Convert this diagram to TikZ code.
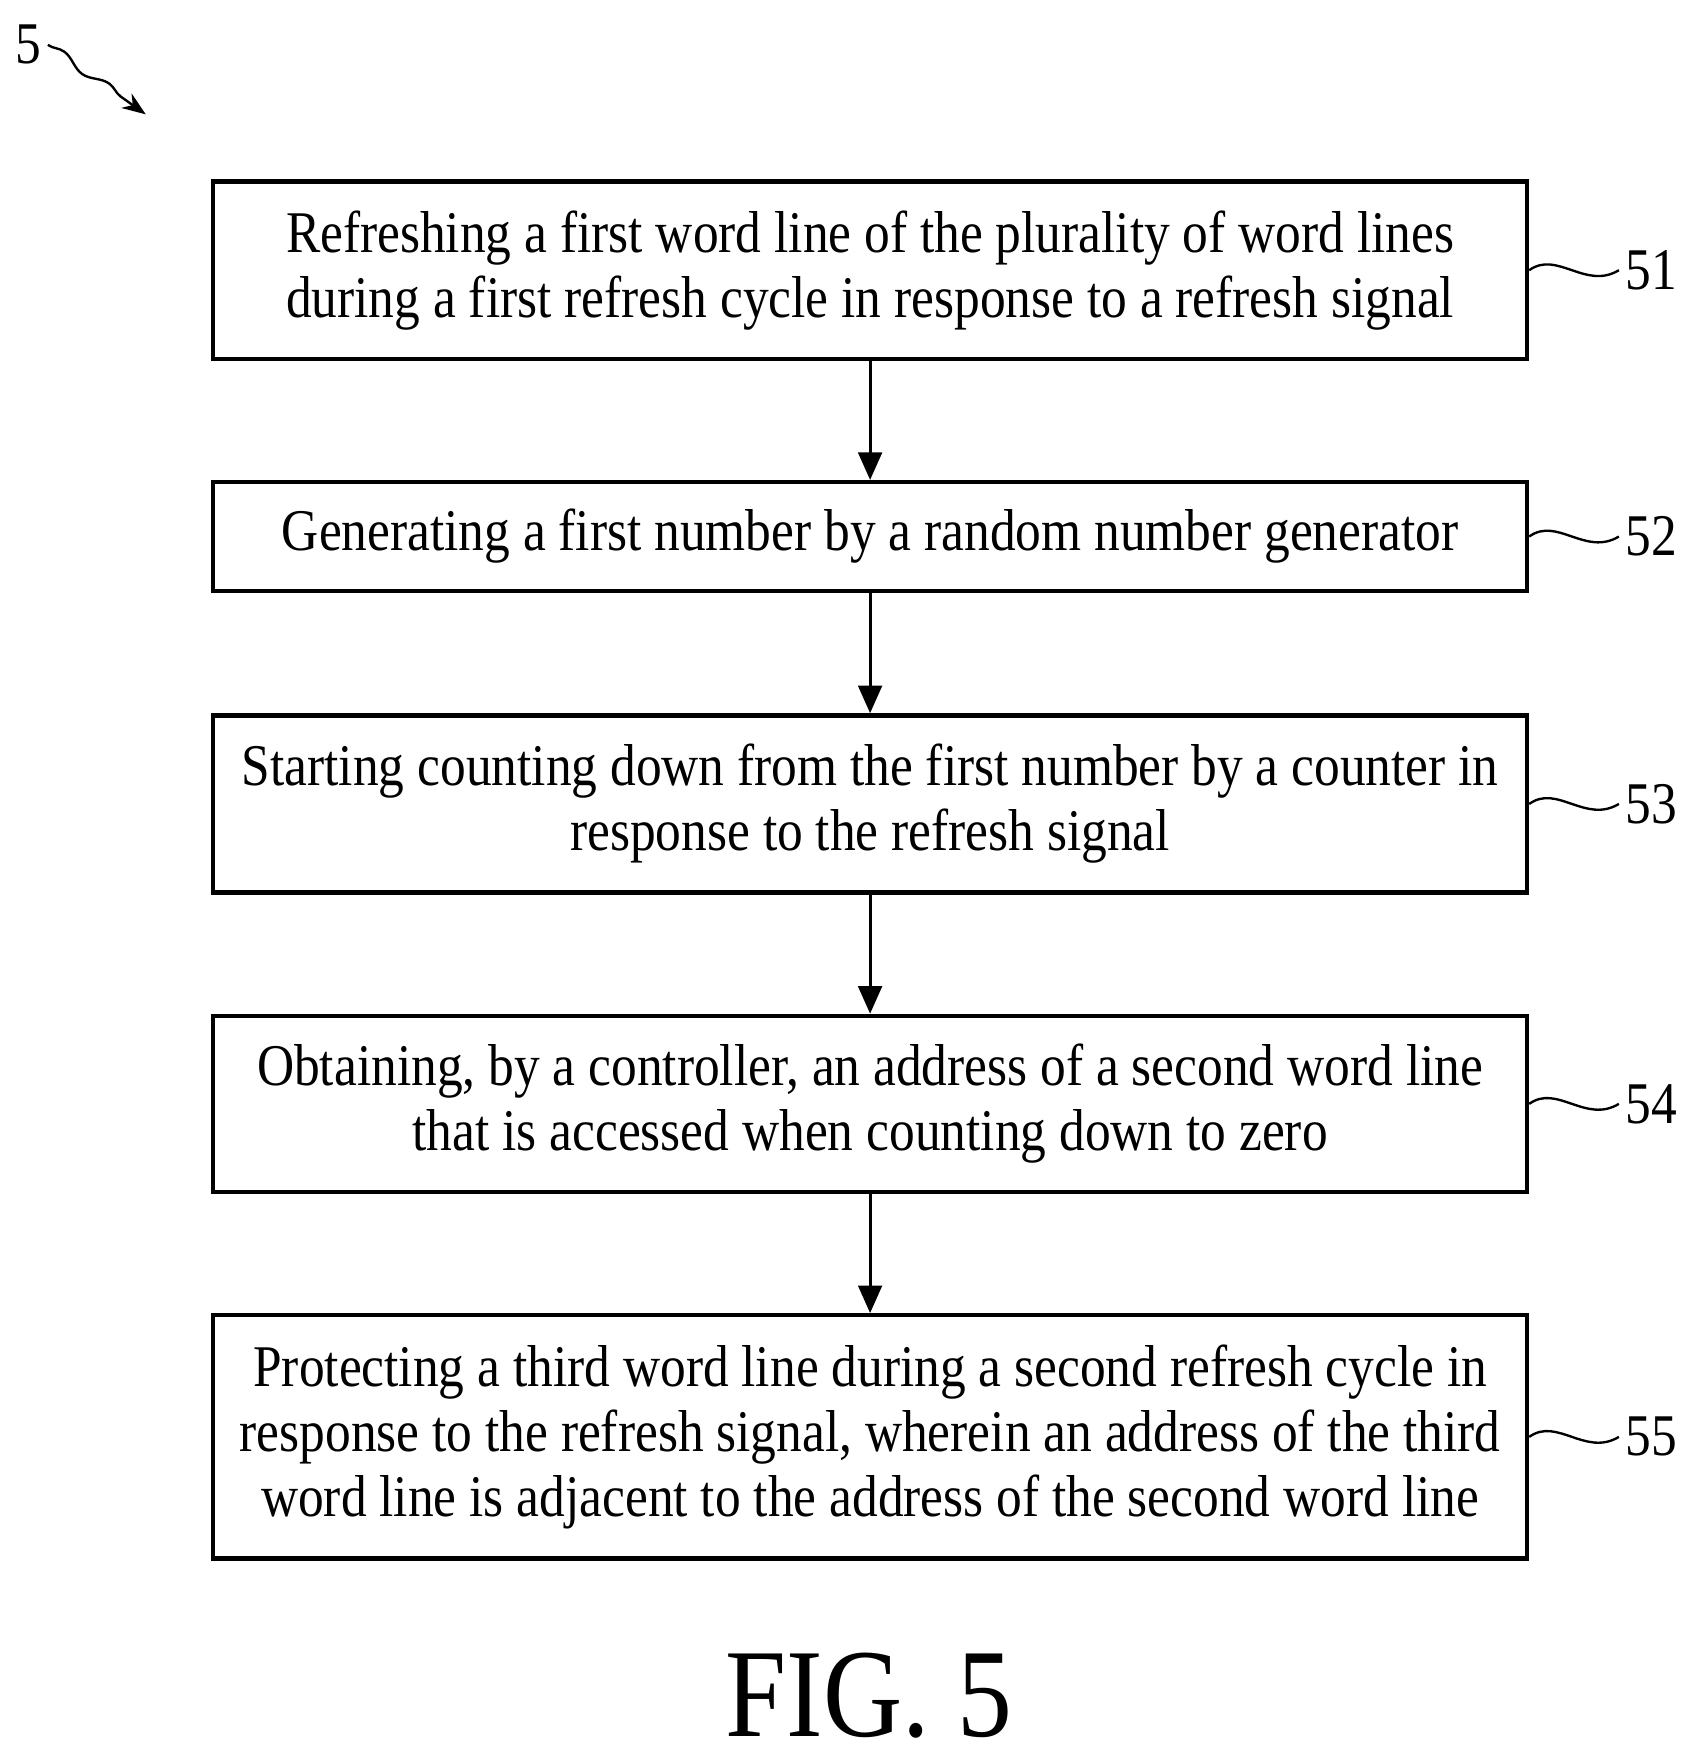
\documentclass[tikz,border=0pt]{standalone}
\usepackage{fontspec}
\setmainfont{Liberation Serif}[FakeStretch=0.87]
\usetikzlibrary{arrows.meta, positioning, calc, decorations.pathmorphing}

\begin{document}
\begin{tikzpicture}[x=0.02cm, y=-0.02cm,
    stepbox/.style={rectangle, draw, line width=2.2pt, minimum width=23.44cm,
                 inner sep=0pt, align=center,
                 font=\fontsize{30}{33}\selectfont},
    flow/.style={line width=1.6pt, -{Triangle[length=14pt, width=12pt]}},
    tag/.style={font=\fontsize{30}{34}\selectfont, anchor=west}
]
    \useasboundingbox (0,0) rectangle (1510,1567);

    % Steps
    \node[stepbox, minimum height=3.16cm] (s51) at (776,241)
        {Refreshing a first word line of the plurality of word lines\\during a first refresh cycle in response to a refresh signal};
    \node[stepbox, minimum height=1.94cm] (s52) at (776,478.5)
        {Generating a first number by a random number generator};
    \node[stepbox, minimum height=3.16cm] (s53) at (776,717)
        {Starting counting down from the first number by a counter in\\response to the refresh signal};
    \node[stepbox, minimum height=3.14cm] (s54) at (776,984.5)
        {Obtaining, by a controller, an address of a second word line\\that is accessed when counting down to zero};
    \node[stepbox, minimum height=4.34cm] (s55) at (776,1281.5)
        {Protecting a third word line during a second refresh cycle in\\response to the refresh signal, wherein an address of the third\\word line is adjacent to the address of the second word line};

    % Connectors
    \foreach \a/\b in {s51/s52, s52/s53, s53/s54, s54/s55}
        \draw[flow] (\a.south) -- (\b.north);

    % Reference numerals
    \foreach \s/\n in {s51/51, s52/52, s53/53, s54/54, s55/55} {
        \node[tag] (n\n) at ($(\s.east)+(80,0)$) {\n};
        \draw[line width=1.2pt] (\s.east) .. controls ($(\s.east)+(25,-18)$) and ($(\s.east)+(50,18)$) .. (n\n.west);
    }

    % Figure reference
    \node[tag, anchor=center] (ref5) at (25,40) {5};
    \coordinate (ref5tip) at (130,102);
    \draw[line width=1.2pt, -{Stealth[length=12pt]}, decorate,
          decoration={snake, amplitude=2pt, segment length=28pt, post length=10pt}]
        (ref5.east) -- (ref5tip);

    \node[font=\fontsize{64}{72}\selectfont] (fig) at (775,1512) {FIG. 5};
\end{tikzpicture}
\end{document}
